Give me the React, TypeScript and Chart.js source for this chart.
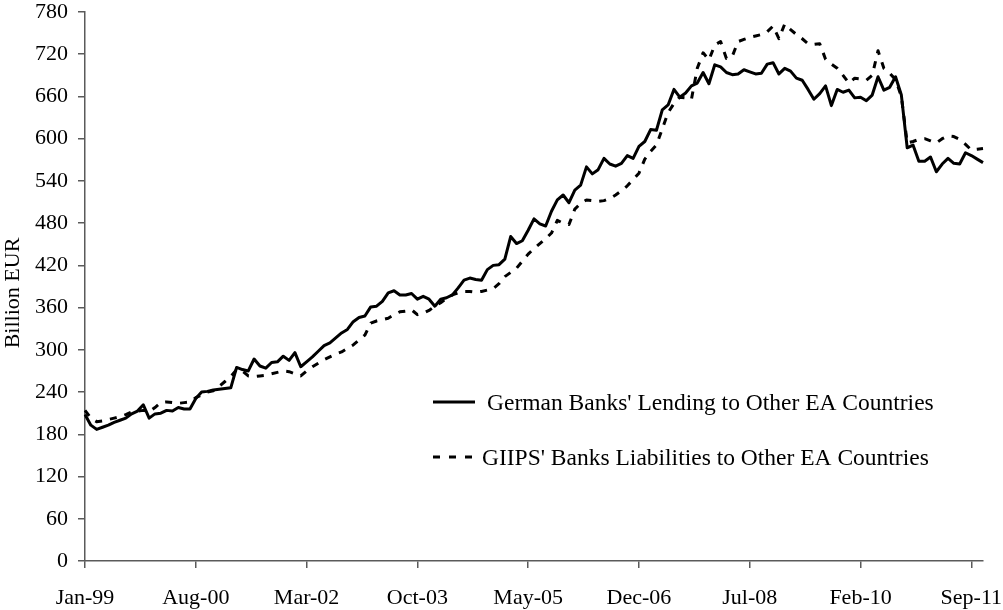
import React, { useEffect, useRef } from "react";
import { Chart, registerables } from "chart.js";

Chart.register(...registerables);

const monthNames = ["Jan", "Feb", "Mar", "Apr", "May", "Jun", "Jul", "Aug", "Sep", "Oct", "Nov", "Dec"];
const startYear = 1999;
const monthCount = 155; // Jan-99 .. Nov-11

const categories: string[] = [];
for (let k = 0; k < monthCount; k++) {
  const y = startYear + Math.floor(k / 12);
  categories.push(`${monthNames[k % 12]}-${String(y % 100).padStart(2, "0")}`);
}

const xTickLabels = ["Jan-99", "Aug-00", "Mar-02", "Oct-03", "May-05", "Dec-06", "Jul-08", "Feb-10", "Sep-11"];

const yAxisTitle = "Billion EUR";

const seriesNames = [
  "German Banks' Lending to Other EA Countries",
  "GIIPS' Banks Liabilities to Other EA Countries",
];

// Billion EUR, monthly Jan-99 .. Nov-11
const germanLending = [
  208, 193, 187, 190, 193, 197, 200, 203, 209, 213, 222, 203,
  209, 210, 214, 213, 218, 216, 216, 231, 240, 241, 243, 244,
  245, 246, 275, 272, 270, 287, 277, 274, 282, 283, 291, 285,
  296, 276, 283, 290, 298, 306, 310, 317, 324, 329, 340, 346,
  348, 361, 362, 369, 381, 384, 378, 378, 380, 372, 376, 372,
  362, 372, 374, 378, 388, 399, 402, 400, 399, 414, 420, 421,
  429, 461, 451, 455, 470, 486, 479, 476, 497, 513, 520, 509,
  527, 534, 560, 550, 556, 572, 564, 561, 565, 576, 572, 589,
  596, 613, 612, 641, 648, 670, 659, 665, 675, 679, 694, 678,
  705, 702, 694, 691, 692, 698, 695, 692, 693, 706, 708, 692,
  700, 696, 686, 683, 670, 656, 664, 675, 647, 670, 666, 669,
  658, 659, 654, 662, 688, 669, 673, 688, 662, 587, 591, 568,
  568, 574, 553, 564, 572, 565, 564, 580, 576, 571, 566,
];

const giipsLiabilities = [
  214, 203, 198, 199, 201, 203, 205, 208, 212, 213, 214, 212,
  218, 225, 226, 225, 224, 225, 226, 232, 236, 240, 242, 248,
  255, 262, 272, 270, 263, 262, 263, 264, 266, 268, 270, 269,
  266, 263, 270, 276, 281, 286, 290, 294, 297, 302, 307, 314,
  321, 338, 341, 343, 345, 350, 354, 355, 357, 350, 352, 356,
  362, 367, 373, 378, 381, 383, 383, 382, 383, 385, 387, 394,
  404, 410, 416, 426, 436, 444, 451, 458, 466, 484, 480, 478,
  500, 508, 513, 512, 511, 512, 515, 520, 526, 533, 542, 551,
  571, 582, 591, 614, 637, 650, 659, 658, 656, 700, 722, 712,
  733, 738, 714, 717, 738, 741, 744, 746, 748, 752, 760, 742,
  763, 755, 748, 742, 735, 734, 735, 713, 706, 700, 690, 679,
  686, 685, 683, 690, 725, 700, 693, 684, 660, 594, 596, 599,
  600, 597, 594, 600, 604, 603, 599, 592, 584, 585, 586,
];

const yMin = 0;
const yMax = 780;
const yStep = 60;

const FONT = "'Liberation Serif', 'Times New Roman', serif";
const AXIS_COLOR = "#5a5a5a";

const annotationPlugin = {
  id: "inlineLegendAndTitle",
  afterDraw(chart: any) {
    const ctx = chart.ctx as CanvasRenderingContext2D;
    ctx.save();
    // legend samples
    ctx.strokeStyle = "#000";
    ctx.lineWidth = 3;
    ctx.lineCap = "butt";
    ctx.beginPath();
    ctx.moveTo(433, 402);
    ctx.lineTo(475, 402);
    ctx.stroke();
    ctx.setLineDash([7, 9]);
    ctx.beginPath();
    ctx.moveTo(433, 457);
    ctx.lineTo(474, 457);
    ctx.stroke();
    ctx.setLineDash([]);
    // legend texts
    ctx.fillStyle = "#000";
    ctx.font = `23.5px ${FONT}`;
    ctx.textAlign = "left";
    ctx.textBaseline = "middle";
    ctx.fillText(seriesNames[0], 487, 404);
    ctx.fillText(seriesNames[1], 482, 459);
    // y-axis title
    ctx.font = `22px ${FONT}`;
    ctx.textAlign = "center";
    ctx.translate(13, 293);
    ctx.rotate(-Math.PI / 2);
    ctx.fillText(yAxisTitle, 0, 0);
    ctx.restore();
  },
};

export default function App() {
  const canvasRef = useRef<HTMLCanvasElement | null>(null);

  useEffect(() => {
    document.body.style.margin = "0";
    const canvas = canvasRef.current;
    if (!canvas) return;
    const chart = new Chart(canvas, {
      type: "line",
      data: {
        labels: categories,
        datasets: [
          {
            label: seriesNames[0],
            data: germanLending,
            borderColor: "#000",
            borderWidth: 3,
            pointRadius: 0,
            tension: 0,
            borderJoinStyle: "round",
            fill: false,
          },
          {
            label: seriesNames[1],
            data: giipsLiabilities,
            borderColor: "#000",
            borderWidth: 3,
            borderDash: [7, 8],
            pointRadius: 0,
            tension: 0,
            borderJoinStyle: "round",
            fill: false,
          },
        ],
      },
      options: {
        responsive: false,
        animation: false,
        devicePixelRatio: 1,
        layout: { padding: { left: 0, right: 20, top: 12, bottom: 0 } },
        plugins: {
          legend: { display: false },
          tooltip: { enabled: false },
        },
        scales: {
          x: {
            type: "category",
            offset: false,
            grid: {
              drawOnChartArea: false,
              drawTicks: true,
              tickLength: 7,
              color: AXIS_COLOR,
              lineWidth: 1.5,
              offset: false,
            },
            border: { display: true, color: AXIS_COLOR, width: 1.5 },
            ticks: {
              autoSkip: false,
              maxRotation: 0,
              minRotation: 0,
              color: "#000",
              padding: 17,
              font: { family: FONT, size: 22 },
              callback: (_v: any, idx: number) => {
                const l = categories[idx];
                return xTickLabels.includes(l) ? l : null;
              },
            },
            afterFit: (s: any) => {
              s.height = 49;
              s.paddingLeft = 0;
              s.paddingRight = 0;
            },
          },
          y: {
            min: yMin,
            max: yMax,
            grid: {
              drawOnChartArea: false,
              drawTicks: true,
              tickLength: 7,
              color: AXIS_COLOR,
              lineWidth: 1.5,
            },
            border: { display: true, color: AXIS_COLOR, width: 1.5 },
            ticks: {
              stepSize: yStep,
              color: "#000",
              padding: 10,
              font: { family: FONT, size: 22 },
            },
            title: { display: false },
            afterFit: (s: any) => {
              s.width = 85;
              s.paddingTop = 0;
              s.paddingBottom = 0;
            },
          },
        },
      },
      plugins: [annotationPlugin],
    });
    return () => chart.destroy();
  }, []);

  return (
    <div style={{ position: "absolute", left: 0, top: 0, width: 1003, height: 610, background: "#fff" }}>
      <canvas ref={canvasRef} width={1003} height={610} style={{ width: 1003, height: 610 }} />
    </div>
  );
}
